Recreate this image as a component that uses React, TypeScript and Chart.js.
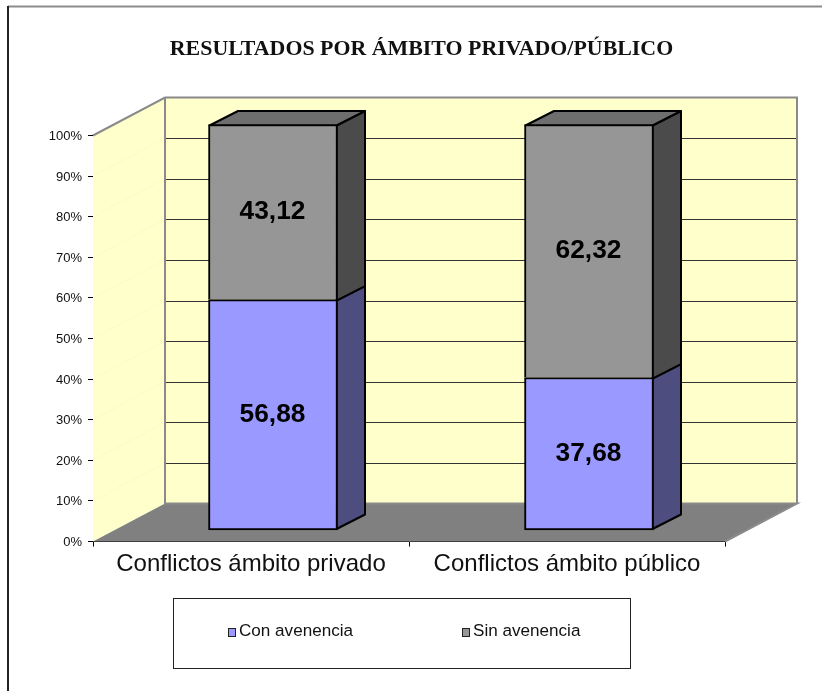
import React, { useEffect, useRef } from "react";
import { Chart, registerables } from "chart.js";

Chart.register(...registerables);

const chartTitle = "RESULTADOS POR ÁMBITO PRIVADO/PÚBLICO";
const categories = ["Conflictos ámbito privado", "Conflictos ámbito público"];
const conAvenencia = [56.88, 37.68];
const sinAvenencia = [43.12, 62.32];
const seriesNames = ["Con avenencia", "Sin avenencia"];
const frontColors = ["#9999FF", "#969696"];
const sideColors = ["#4D4D80", "#4B4B4B"];
const topColor = "#6E6E6E";
const WALL = "#FFFFCC";
const WALL_EDGE = "#8A8A8A";

const WALL_DX = 72;
const WALL_DY = -38;
const BAR_SHIFT_X = 22;
const BAR_SHIFT_Y = -11;
const BAR_DX = 28.5;
const BAR_DY = -14.5;

const fmt = (v: number) => v.toFixed(2).replace(".", ",");

function poly(ctx: CanvasRenderingContext2D, pts: number[][], fill?: string, stroke?: string, lw = 2) {
  ctx.beginPath();
  pts.forEach(([x, y], i) => (i ? ctx.lineTo(x, y) : ctx.moveTo(x, y)));
  ctx.closePath();
  if (fill) {
    ctx.fillStyle = fill;
    ctx.fill();
  }
  if (stroke) {
    ctx.strokeStyle = stroke;
    ctx.lineWidth = lw;
    ctx.lineJoin = "round";
    ctx.stroke();
  }
}

const frame3d = {
  id: "frame3d",
  beforeDraw(chart: any) {
    const { ctx, width, height } = chart;
    ctx.save();
    ctx.fillStyle = "#fff";
    ctx.fillRect(0, 0, width, height);
    // outer frame
    ctx.strokeStyle = "#8C8C8C";
    ctx.lineWidth = 2;
    ctx.beginPath();
    ctx.moveTo(8, 6.5);
    ctx.lineTo(width, 6.5);
    ctx.stroke();
    ctx.strokeStyle = "#222";
    ctx.beginPath();
    ctx.moveTo(8, 6);
    ctx.lineTo(8, height);
    ctx.stroke();
    // title
    ctx.fillStyle = "#111";
    ctx.font = "bold 21.9px 'Liberation Serif'";
    ctx.textAlign = "center";
    ctx.textBaseline = "alphabetic";
    ctx.fillText(chartTitle, 421.5, 55);
    // legend
    ctx.strokeStyle = "#222";
    ctx.lineWidth = 1;
    ctx.strokeRect(173.5, 598.5, 457, 70);
    ctx.font = "17.1px 'Liberation Sans'";
    ctx.textAlign = "left";
    [228.5, 462.5].forEach((x, i) => {
      ctx.fillStyle = frontColors[i];
      ctx.fillRect(x, 628.5, 7, 8);
      ctx.strokeStyle = "#222";
      ctx.strokeRect(x, 628.5, 7, 8);
      ctx.fillStyle = "#111";
      ctx.fillText(seriesNames[i], x + 10.5, 636);
    });
    ctx.restore();
  },
  beforeDatasetsDraw(chart: any) {
    const { ctx, chartArea: a, scales } = chart;
    const L = a.left, R = a.right, T = a.top, B = a.bottom;
    ctx.save();
    // side wall, back wall, floor
    poly(ctx, [[L, B], [L, T], [L + WALL_DX, T + WALL_DY], [L + WALL_DX, B + WALL_DY]], WALL);
    poly(ctx, [[L + WALL_DX, T + WALL_DY], [R + WALL_DX, T + WALL_DY], [R + WALL_DX, B + WALL_DY], [L + WALL_DX, B + WALL_DY]], WALL);
    poly(ctx, [[L, B], [L + WALL_DX, B + WALL_DY], [R + WALL_DX, B + WALL_DY], [R, B]], "#808080");
    // gridlines
    scales.y.ticks.forEach((t: any) => {
      const y = scales.y.getPixelForValue(t.value);
      if (t.value > 0 && t.value < 100) {
        ctx.strokeStyle = "#FBFBC9";
        ctx.lineWidth = 1;
        ctx.beginPath();
        ctx.moveTo(L, y);
        ctx.lineTo(L + WALL_DX, y + WALL_DY);
        ctx.stroke();
        ctx.strokeStyle = "#333";
        ctx.lineWidth = 1;
        ctx.beginPath();
        ctx.moveTo(L + WALL_DX, Math.round(y + WALL_DY) + 0.5);
        ctx.lineTo(R + WALL_DX, Math.round(y + WALL_DY) + 0.5);
        ctx.stroke();
      }
    });
    // wall edges
    ctx.strokeStyle = WALL_EDGE;
    ctx.lineWidth = 2;
    ctx.beginPath();
    ctx.moveTo(L, T);
    ctx.lineTo(L + WALL_DX, T + WALL_DY);
    ctx.lineTo(R + WALL_DX, T + WALL_DY);
    ctx.lineTo(R + WALL_DX, B + WALL_DY);
    ctx.moveTo(L + WALL_DX, T + WALL_DY);
    ctx.lineTo(L + WALL_DX, B + WALL_DY);
    ctx.lineTo(R + WALL_DX, B + WALL_DY);
    ctx.lineTo(R, B);
    ctx.stroke();
    ctx.restore();

    // depth faces of the bars: lower segment first, the upper one closes on its top edge
    ctx.save();
    ctx.translate(BAR_SHIFT_X, BAR_SHIFT_Y);
    chart.data.datasets.forEach((_: any, di: number) => {
      chart.getDatasetMeta(di).data.forEach((el: any) => {
        const r = el.x + el.width / 2 - 1;
        const l = el.x - el.width / 2 + 1;
        const topY = el.y + 1;
        const baseY = di === 0 ? el.base - 1 : el.base + 1;
        poly(ctx, [[r, topY], [r + BAR_DX, topY + BAR_DY], [r + BAR_DX, baseY + BAR_DY], [r, baseY]], sideColors[di], "#000");
        if (di === chart.data.datasets.length - 1) {
          poly(ctx, [[l, topY], [l + BAR_DX, topY + BAR_DY], [r + BAR_DX, topY + BAR_DY], [r, topY]], topColor, "#000");
        }
      });
    });
    ctx.restore();
    // front faces are drawn by Chart.js under this same offset
    ctx.save();
    ctx.translate(BAR_SHIFT_X, BAR_SHIFT_Y);
  },
  afterDatasetsDraw(chart: any) {
    const { ctx } = chart;
    ctx.restore();
    ctx.save();
    ctx.translate(BAR_SHIFT_X, BAR_SHIFT_Y);
    ctx.fillStyle = "#000";
    ctx.font = "bold 26.3px 'Liberation Sans'";
    ctx.textAlign = "center";
    ctx.textBaseline = "middle";
    chart.data.datasets.forEach((ds: any, di: number) => {
      chart.getDatasetMeta(di).data.forEach((el: any, i: number) => {
        ctx.fillText(fmt(ds.data[i]), el.x - 0.5, (el.y + el.base) / 2 - 0.5);
      });
    });
    ctx.restore();
  },
};

export default function App() {
  const ref = useRef<HTMLCanvasElement>(null);
  useEffect(() => {
    const chart = new Chart(ref.current!, {
      type: "bar",
      data: {
        labels: categories,
        datasets: [
          {
            label: seriesNames[0],
            data: conAvenencia,
            backgroundColor: frontColors[0],
            borderColor: "#000",
            borderWidth: 2,
            borderSkipped: false,
            clip: false,
          },
          {
            label: seriesNames[1],
            data: sinAvenencia,
            backgroundColor: frontColors[1],
            borderColor: "#000",
            borderWidth: 2,
            clip: false,
          },
        ],
      },
      options: {
        responsive: false,
        animation: false,
        barThickness: 129,
        layout: { padding: { left: 43, right: 97, top: 135.5, bottom: 109.5 } },
        plugins: { legend: { display: false }, title: { display: false }, tooltip: { enabled: false } },
        scales: {
          x: {
            stacked: true,
            afterFit: (s: any) => {
              s.height = 40;
            },
            border: { color: "#000", width: 1 },
            grid: { drawOnChartArea: false, drawTicks: true, tickLength: 5, tickColor: "#000", offset: true },
            ticks: {
              color: "#111",
              font: { family: "'Liberation Sans'", size: 24 },
              padding: 3,
              maxRotation: 0,
              autoSkip: false,
            },
          },
          y: {
            stacked: true,
            min: 0,
            max: 100,
            afterFit: (s: any) => {
              s.width = 50;
            },
            border: { color: "#000", width: 1 },
            grid: { drawOnChartArea: false, drawTicks: true, tickLength: 5, tickColor: "#000" },
            ticks: {
              stepSize: 10,
              color: "#111",
              font: { family: "'Liberation Sans'", size: 13 },
              padding: 6,
              labelOffset: 1,
              callback: (v: any) => `${v}%`,
            },
          },
        },
      } as any,
      plugins: [frame3d],
    });
    return () => chart.destroy();
  }, []);
  return (
    <div style={{ position: "absolute", left: 0, top: 0, width: 822, height: 691 }}>
      <canvas ref={ref} width={822} height={691} style={{ display: "block" }} />
    </div>
  );
}
